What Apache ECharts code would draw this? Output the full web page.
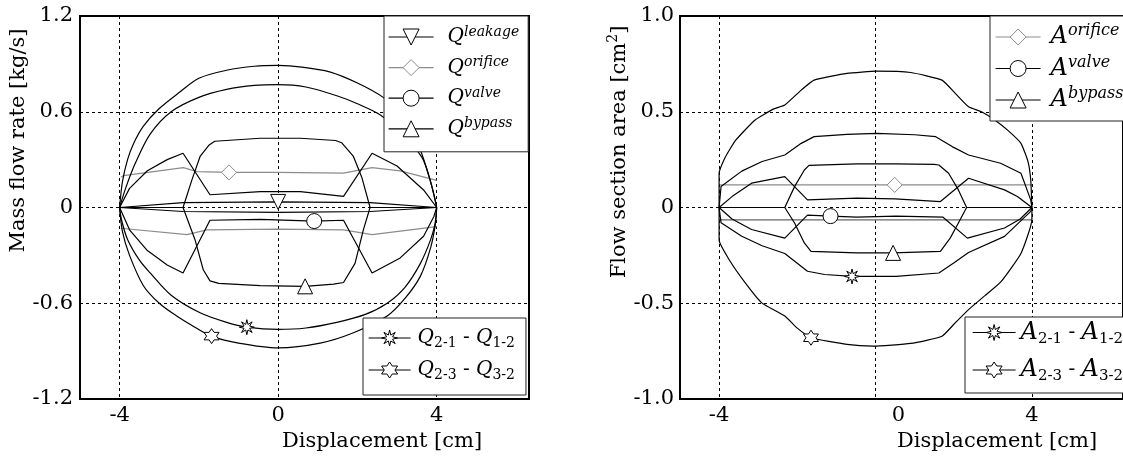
<!DOCTYPE html>
<html>
<head>
<meta charset="utf-8">
<script src="https://cdn.jsdelivr.net/npm/echarts@6/dist/echarts.min.js"></script>
<style>
html,body{margin:0;padding:0;background:#fff}
#chart{width:1123px;height:457px}
</style>
</head>
<body>
<div id="chart"></div>
<script>
// ticks / grid lines
var xTicks = [-4, 0, 4];
var qYGrid = [-0.6, 0, 0.6];
var aYGrid = [-0.5, 0, 0.5];

// mass flow rate [kg/s] vs displacement [cm]
var qLeakTop = [[-4,0],[-2.4,0.03],[0,0.035],[2.32,0.03],[4,0]];
var qLeakBot = [[-4,0],[-2.4,-0.025],[0,-0.03],[2.32,-0.025],[4,0]];
var qOrifTop = [[-3.97,0.19],[-3.9,0.2],[-2.39,0.25],[-2.05,0.225],[-1.24,0.22],[0,0.22],[1.65,0.215],[2.37,0.25],[3.08,0.23],[4,0.17]];
var qOrifBot = [[-3.97,-0.13],[-2.3,-0.17],[-1.8,-0.14],[0,-0.135],[1.65,-0.14],[2.37,-0.17],[4,-0.12]];
var qValveTop = [[-4,0],[-3.75,0.12],[-3.3,0.23],[-2.8,0.3],[-2.4,0.34],[-1.72,0.08],[-0.45,0.1],[0.56,0.1],[1.65,0.07],[2.37,0.34],[3.0,0.26],[3.67,0.11],[4,0]];
var qValveBot = [[-4,0],[-3.75,-0.14],[-3.3,-0.27],[-2.8,-0.36],[-2.4,-0.41],[-1.72,-0.08],[-0.45,-0.075],[0.91,-0.085],[1.65,-0.08],[2.37,-0.41],[3.08,-0.316],[3.67,-0.18],[3.93,-0.056],[4,0]];
var qBypassTop = [[-4,0],[-2.4,0],[-2.18,0.17],[-1.97,0.32],[-1.75,0.39],[-1.6,0.415],[-0.45,0.434],[0.56,0.434],[1.45,0.42],[1.6,0.406],[1.9,0.32],[2.11,0.19],[2.32,0],[4,0]];
var qBypassBot = [[-4,0],[-2.4,0],[-2.1,-0.2],[-1.89,-0.39],[-1.72,-0.46],[-1.5,-0.475],[-0.45,-0.49],[0.68,-0.494],[1.4,-0.48],[1.65,-0.47],[1.94,-0.35],[2.15,-0.14],[2.32,0],[4,0]];
var q21Top = [[-4,0],[-3.85,0.12],[-3.6,0.28],[-3.23,0.46],[-2.7,0.6],[-2.0,0.69],[-1.3,0.74],[-0.6,0.765],[0,0.77],[0.7,0.755],[1.48,0.7],[2.0,0.65],[2.58,0.58],[3.1,0.47],[3.4,0.39],[3.66,0.3],[3.85,0.16],[3.95,0.06],[4,0]];
var q12Bot = [[-4,0],[-3.95,-0.08],[-3.8,-0.2],[-3.5,-0.33],[-3.23,-0.41],[-2.7,-0.55],[-1.97,-0.66],[-1.3,-0.72],[-0.79,-0.75],[0,-0.764],[0.7,-0.755],[1.48,-0.72],[2.2,-0.67],[2.75,-0.6],[3.2,-0.5],[3.59,-0.35],[3.85,-0.2],[3.96,-0.1],[4,0]];
var q23Top = [[-4,0],[-3.93,0.16],[-3.8,0.3],[-3.65,0.4],[-3.4,0.51],[-3.0,0.62],[-2.5,0.72],[-2.0,0.81],[-1.3,0.86],[-0.6,0.885],[0,0.89],[0.6,0.88],[1.3,0.85],[2.0,0.78],[2.65,0.69],[3.0,0.6],[3.3,0.52],[3.59,0.36],[3.8,0.2],[3.93,0.08],[4,0]];
var q32Bot = [[-4,0],[-3.93,-0.15],[-3.75,-0.3],[-3.4,-0.49],[-3.0,-0.6],[-2.56,-0.68],[-2.1,-0.75],[-1.68,-0.806],[-1.0,-0.85],[0,-0.88],[1.06,-0.85],[1.9,-0.785],[2.75,-0.68],[3.2,-0.57],[3.59,-0.43],[3.85,-0.25],[3.97,-0.1],[4,0]];
// x where the marker sits: leakage, orifice, valve, bypass, 2-1/1-2, 2-3/3-2
var qMarkX = [0, -1.24, 0.91, 0.68, -0.79, -1.68];

// flow section area [cm2] vs displacement [cm]
var aOrifTop = [[-4,0.118],[0.49,0.118],[4,0.118]];
var aOrifBot = [[-4,-0.065],[4,-0.065]];
var aValveTop = [[-4,0],[-3.67,0.057],[-3.17,0.127],[-2.32,0.161],[-1.74,0.04],[-0.48,0.049],[0.5,0.045],[1.66,0.031],[2.38,0.153],[3.3,0.092],[3.63,0.057],[4,0]];
var aValveBot = [[-4,0],[-3.67,-0.06],[-3.17,-0.115],[-2.32,-0.16],[-1.74,-0.04],[-1.15,-0.045],[-0.48,-0.05],[0.53,-0.045],[1.72,-0.05],[2.35,-0.16],[3.3,-0.107],[3.7,-0.06],[4,0]];
var aBypassTop = [[-4,0],[-2.32,0],[-2.07,0.109],[-1.82,0.196],[-1.7,0.22],[-0.48,0.228],[0.5,0.228],[1.5,0.225],[1.62,0.222],[1.87,0.179],[2.12,0.092],[2.33,0],[4,0]];
var aBypassBot = [[-4,0],[-2.32,0],[-2.07,-0.081],[-1.82,-0.185],[-1.65,-0.229],[-0.48,-0.237],[0.45,-0.237],[1.66,-0.229],[1.91,-0.16],[2.12,-0.081],[2.33,0],[4,0]];
var a21Top = [[-4,0],[-3.95,0.11],[-3.42,0.19],[-2.9,0.24],[-2.32,0.274],[-1.9,0.335],[-1.57,0.37],[-0.73,0.382],[0.03,0.387],[1.0,0.38],[1.54,0.37],[1.96,0.318],[2.38,0.274],[3.2,0.231],[3.72,0.179],[3.97,0.04],[4,0]];
var a12Bot = [[-4,0],[-3.95,-0.08],[-3.42,-0.15],[-2.9,-0.2],[-2.32,-0.24],[-1.74,-0.333],[-1.3,-0.35],[-0.6,-0.36],[0.53,-0.36],[1.62,-0.342],[2.0,-0.29],[2.38,-0.235],[3.3,-0.151],[3.97,-0.02],[4,0]];
var a23Top = [[-4,0],[-4,0.18],[-3.85,0.26],[-3.58,0.35],[-3.08,0.457],[-2.6,0.515],[-2.32,0.535],[-1.9,0.613],[-1.57,0.665],[-0.73,0.7],[0.03,0.712],[0.9,0.705],[1.7,0.665],[2.04,0.596],[2.38,0.526],[2.71,0.5],[3.05,0.457],[3.4,0.4],[3.72,0.335],[3.9,0.24],[3.97,0.145],[4,0]];
var a32Bot = [[-4,0],[-4,-0.17],[-3.75,-0.27],[-3.33,-0.394],[-2.91,-0.498],[-2.32,-0.567],[-2.0,-0.63],[-1.65,-0.68],[-0.73,-0.715],[-0.06,-0.724],[0.9,-0.71],[1.7,-0.672],[2.04,-0.602],[2.38,-0.533],[2.8,-0.46],[3.2,-0.39],[3.72,-0.24],[4,-0.064],[4,0]];
// orifice, valve, bypass, 2-1/1-2, 2-3/3-2
var aMarkX = [0.49, -1.15, 0.45, -0.6, -1.65];

var FONT = 'DejaVu Serif';
var GRAY = '#8c8c8c';
var TRI_DOWN = 'path://M0,0L10,0L5,8.6Z';
var HEXAGRAM = 'path://M10,0L12.89,5L18.66,5L15.77,10L18.66,15L12.89,15L10,20L7.11,15L1.34,15L4.23,10L1.34,5L7.11,5Z';
var ASTER = 'path://M10,0L11.5,6.3L17.07,2.93L13.7,8.5L20,10L13.7,11.5L17.07,17.07L11.5,13.7L10,20L8.5,13.7L2.93,17.07L6.3,11.5L0,10L6.3,8.5L2.93,2.93L8.5,6.3Z';

var chartDom = document.getElementById('chart');
var myChart = echarts.init(chartDom);

// one curve = one line series, marker only on the point at markX
function curve(name, gi, pts, symbol, markX, color, smooth) {
    return {
        name: name,
        type: 'line',
        xAxisIndex: gi,
        yAxisIndex: gi,
        symbol: symbol,
        symbolSize: 15,
        showSymbol: true,
        showAllSymbol: true,
        smooth: smooth || false,
        silent: true,
        animation: false,
        lineStyle: { color: color, width: 1.2 },
        itemStyle: { color: '#fff', borderColor: color, borderWidth: 1 },
        emphasis: { disabled: true },
        data: pts.map(function (p) {
            return { value: p, symbol: p[0] === markX ? symbol : 'none' };
        })
    };
}

function richSet(big, small, sub) {
    return {
        q: { fontFamily: FONT, fontStyle: 'italic', fontSize: big, lineHeight: big + 4, color: '#000' },
        sup: { fontFamily: FONT, fontStyle: 'italic', fontSize: small, lineHeight: small + 5, verticalAlign: 'top', color: '#000' },
        sub: { fontFamily: FONT, fontSize: sub, lineHeight: 8, verticalAlign: 'bottom', color: '#000' },
        t: { fontFamily: FONT, fontSize: 20, lineHeight: big + 4, color: '#000' }
    };
}
var legendText = {
    Qleakage: '{q|Q}{sup|leakage}',
    Qorifice: '{q|Q}{sup|orifice}',
    Qvalve: '{q|Q}{sup|valve}',
    Qbypass: '{q|Q}{sup|bypass}',
    Q21: '{q|Q}{sub|2-1}{t| - }{q|Q}{sub|1-2}',
    Q23: '{q|Q}{sub|2-3}{t| - }{q|Q}{sub|3-2}',
    Aorifice: '{q|A}{sup|orifice}',
    Avalve: '{q|A}{sup|valve}',
    Abypass: '{q|A}{sup|bypass}',
    A21: '{q|A}{sub|2-1}{t| - }{q|A}{sub|1-2}',
    A23: '{q|A}{sub|2-3}{t| - }{q|A}{sub|3-2}'
};

function legendBox(pos, names, itemWidth, itemGap, padding, textPad, textWidth, rich) {
    return {
        left: pos[0],
        top: pos[1],
        orient: 'vertical',
        selectedMode: false,
        itemWidth: itemWidth,
        itemHeight: 20,
        itemGap: itemGap,
        padding: padding,
        backgroundColor: '#fff',
        borderColor: '#222',
        borderWidth: 1,
        itemStyle: { color: '#fff', borderColor: '#000', borderWidth: 1 },
        lineStyle: { color: '#000', width: 1.2 },
        formatter: function (n) { return legendText[n]; },
        textStyle: { padding: [0, 0, 0, textPad], width: textWidth, rich: rich },
        data: names.map(function (n) {
            if (n.indexOf('orifice') > 0) {
                return { name: n, itemStyle: { borderColor: GRAY }, lineStyle: { color: GRAY } };
            }
            return { name: n };
        })
    };
}

function yFmt(v) { return Math.abs(v) < 1e-9 ? '0' : v.toFixed(1); }

var labelStyle = { fontFamily: FONT, fontSize: 21, color: '#000' };
var gridLine = { show: true, lineStyle: { color: '#000', width: 1, type: [3, 3] } };

var option = {
    animation: false,
    backgroundColor: '#fff',
    grid: [
        { left: 80, top: 16, width: 449, height: 383, show: true, borderColor: '#000', borderWidth: 2 },
        { left: 680, top: 16, width: 450, height: 383, show: true, borderColor: '#000', borderWidth: 2 }
    ],
    xAxis: [0, 1].map(function (gi) {
        return {
            gridIndex: gi,
            type: 'value',
            min: -5,
            max: 6.33,
            axisLine: { show: false, onZero: false },
            axisTick: { show: false, customValues: xTicks },
            axisLabel: Object.assign({
                customValues: xTicks,
                margin: 6,
                formatter: function (v) { return (gi === 1 && v === 0) ? '{s|0}' : String(v); },
                rich: { s: { fontFamily: FONT, fontSize: 21, color: '#000', padding: [0, 0, 0, 46] } }
            }, labelStyle),
            splitLine: gridLine,
            name: 'Displacement [cm]',
            nameLocation: 'middle',
            nameGap: 17,
            nameTextStyle: Object.assign({ padding: [0, 0, 0, gi === 0 ? 155 : 191] }, labelStyle)
        };
    }),
    yAxis: [
        {
            gridIndex: 0, type: 'value', min: -1.2, max: 1.2, interval: 0.6,
            axisLine: { show: false, onZero: false },
            axisTick: { show: false, customValues: qYGrid },
            axisLabel: Object.assign({ margin: 7, formatter: yFmt }, labelStyle),
            splitLine: gridLine,
            name: 'Mass flow rate [kg/s]',
            nameLocation: 'middle',
            nameGap: 47,
            nameTextStyle: Object.assign({ padding: [0, 0, 0, 134] }, labelStyle)
        },
        {
            gridIndex: 1, type: 'value', min: -1, max: 1, interval: 0.5,
            axisLine: { show: false, onZero: false },
            axisTick: { show: false, customValues: aYGrid },
            axisLabel: Object.assign({ margin: 6, formatter: yFmt }, labelStyle),
            splitLine: gridLine,
            name: '{a|Flow section area [cm}{b|2}{a|]}',
            nameLocation: 'middle',
            nameGap: 44,
            nameTextStyle: Object.assign({
                padding: [0, 0, 0, 111],
                rich: {
                    a: { fontFamily: FONT, fontSize: 21, color: '#000', lineHeight: 26 },
                    b: { fontFamily: FONT, fontSize: 14, color: '#000', lineHeight: 18, verticalAlign: 'top' }
                }
            }, labelStyle)
        }
    ],
    legend: [
        legendBox([384, 16], ['Qleakage', 'Qorifice', 'Qvalve', 'Qbypass'], 45, 8.6, [9, 9, 13, 4], 9, 73, richSet(20, 14, 14)),
        legendBox([363, 318], ['Q21', 'Q23'], 42, 10, [10, 11, 13, 5], 2, 104, richSet(20, 14, 14)),
        legendBox([990, 16], ['Aorifice', 'Avalve', 'Abypass'], 45, 5.5, [7, 20, 9, 5], 5, 80, richSet(24, 16, 15)),
        legendBox([965, 317], ['A21', 'A23'], 43, 11.5, [3.5, 20, 9, 7], 0, 110, richSet(24, 16, 15))
    ],
    series: [
        curve('Qleakage', 0, qLeakTop, TRI_DOWN, qMarkX[0], '#000'),
        curve('Qleakage', 0, qLeakBot, 'none', null, '#000'),
        curve('Qorifice', 0, qOrifTop, 'diamond', qMarkX[1], GRAY),
        curve('Qorifice', 0, qOrifBot, 'none', null, GRAY),
        curve('Qvalve', 0, qValveBot, 'circle', qMarkX[2], '#000'),
        curve('Qvalve', 0, qValveTop, 'none', null, '#000'),
        curve('Qbypass', 0, qBypassBot, 'triangle', qMarkX[3], '#000'),
        curve('Qbypass', 0, qBypassTop, 'none', null, '#000'),
        curve('Q21', 0, q12Bot, ASTER, qMarkX[4], '#000', 0.3),
        curve('Q21', 0, q21Top, 'none', null, '#000', 0.3),
        curve('Q23', 0, q32Bot, HEXAGRAM, qMarkX[5], '#000', 0.3),
        curve('Q23', 0, q23Top, 'none', null, '#000', 0.3),

        curve('Aorifice', 1, aOrifTop, 'diamond', aMarkX[0], GRAY),
        curve('Aorifice', 1, aOrifBot, 'none', null, '#666'),
        curve('Avalve', 1, aValveBot, 'circle', aMarkX[1], '#000'),
        curve('Avalve', 1, aValveTop, 'none', null, '#000'),
        curve('Abypass', 1, aBypassBot, 'triangle', aMarkX[2], '#000'),
        curve('Abypass', 1, aBypassTop, 'none', null, '#000'),
        curve('A21', 1, a12Bot, ASTER, aMarkX[3], '#000'),
        curve('A21', 1, a21Top, 'none', null, '#000'),
        curve('A23', 1, a32Bot, HEXAGRAM, aMarkX[4], '#000', 0.15),
        curve('A23', 1, a23Top, 'none', null, '#000', 0.15)
    ]
};
myChart.setOption(option);
</script>
</body>
</html>
